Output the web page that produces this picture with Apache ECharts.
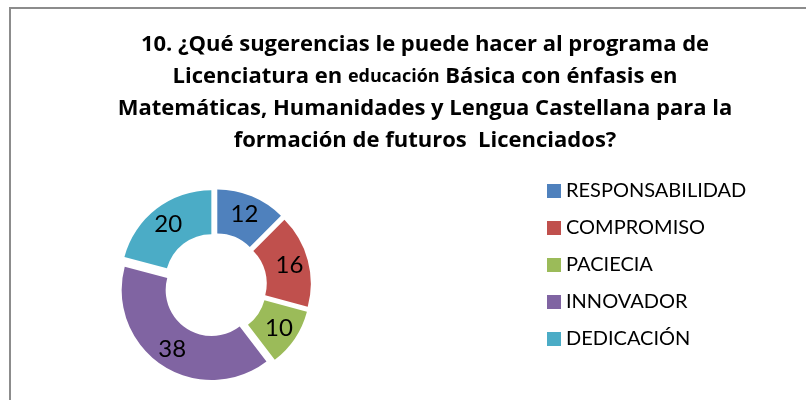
<!DOCTYPE html>
<html>
<head>
<meta charset="utf-8">
<script src="https://cdn.jsdelivr.net/npm/echarts@6/dist/echarts.min.js"></script>
<style>
  html, body { margin: 0; padding: 0; background: #fff; }
  #chart { width: 806px; height: 400px; }
</style>
</head>
<body>
<div id="chart"></div>
<script>
const categories = ['RESPONSABILIDAD', 'COMPROMISO', 'PACIECIA', 'INNOVADOR', 'DEDICACIÓN']
const values = [12, 16, 10, 38, 20]
const colors = ['#4F81BD', '#C0504D', '#9BBB59', '#8064A2', '#4BACC6']

const font = 'Lato, "Open Sans", sans-serif'
const titleFont = '"Open Sans", Lato, sans-serif'

const chart = echarts.init(document.getElementById('chart'))

const options = {
    backgroundColor: '#fff',
    color: colors,
    title: {
        left: 420,
        top: 24,
        textAlign: 'center',
        text: '{b|10. ¿Qué sugerencias le puede hacer al programa de}\n' +
            '{b|Licenciatura en }{s|educación}{b| Básica con énfasis en}\n' +
            '{b|Matemáticas, Humanidades y Lengua Castellana para la}\n' +
            '{b|formación de futuros  Licenciados?}',
        textStyle: {
            rich: {
                b: { fontFamily: titleFont, fontWeight: 'bold', fontSize: 22, lineHeight: 32, color: '#000' },
                s: { fontFamily: titleFont, fontWeight: 'bold', fontSize: 18, lineHeight: 32, color: '#000' }
            }
        }
    },
    legend: {
        orient: 'vertical',
        left: 547,
        top: 181,
        padding: 0,
        itemWidth: 14,
        itemHeight: 14,
        itemGap: 17,
        icon: 'rect',
        selectedMode: false,
        data: categories,
        textStyle: { fontFamily: font, fontSize: 20, color: '#000', padding: [0, 0, 0, 0] }
    },
    graphic: [
        {
            type: 'polyline',
            shape: { points: [[10, 400], [10, 8], [806, 8]] },
            style: { stroke: '#8c8c8c', lineWidth: 2, fill: null },
            silent: true
        }
    ],
    series: [
        {
            type: 'pie',
            center: [215, 285],
            radius: [46, 90],
            startAngle: 90,
            clockwise: true,
            selectedMode: 'multiple',
            selectedOffset: 6,
            avoidLabelOverlap: false,
            label: {
                show: true,
                position: 'inside',
                formatter: '{c}',
                fontFamily: font,
                fontSize: 24,
                color: '#000'
            },
            labelLine: { show: false },
            emphasis: { scale: false },
            data: categories.map((name, i) => ({ name: name, value: values[i], selected: true }))
        }
    ]
}

chart.setOption(options)
</script>
</body>
</html>
